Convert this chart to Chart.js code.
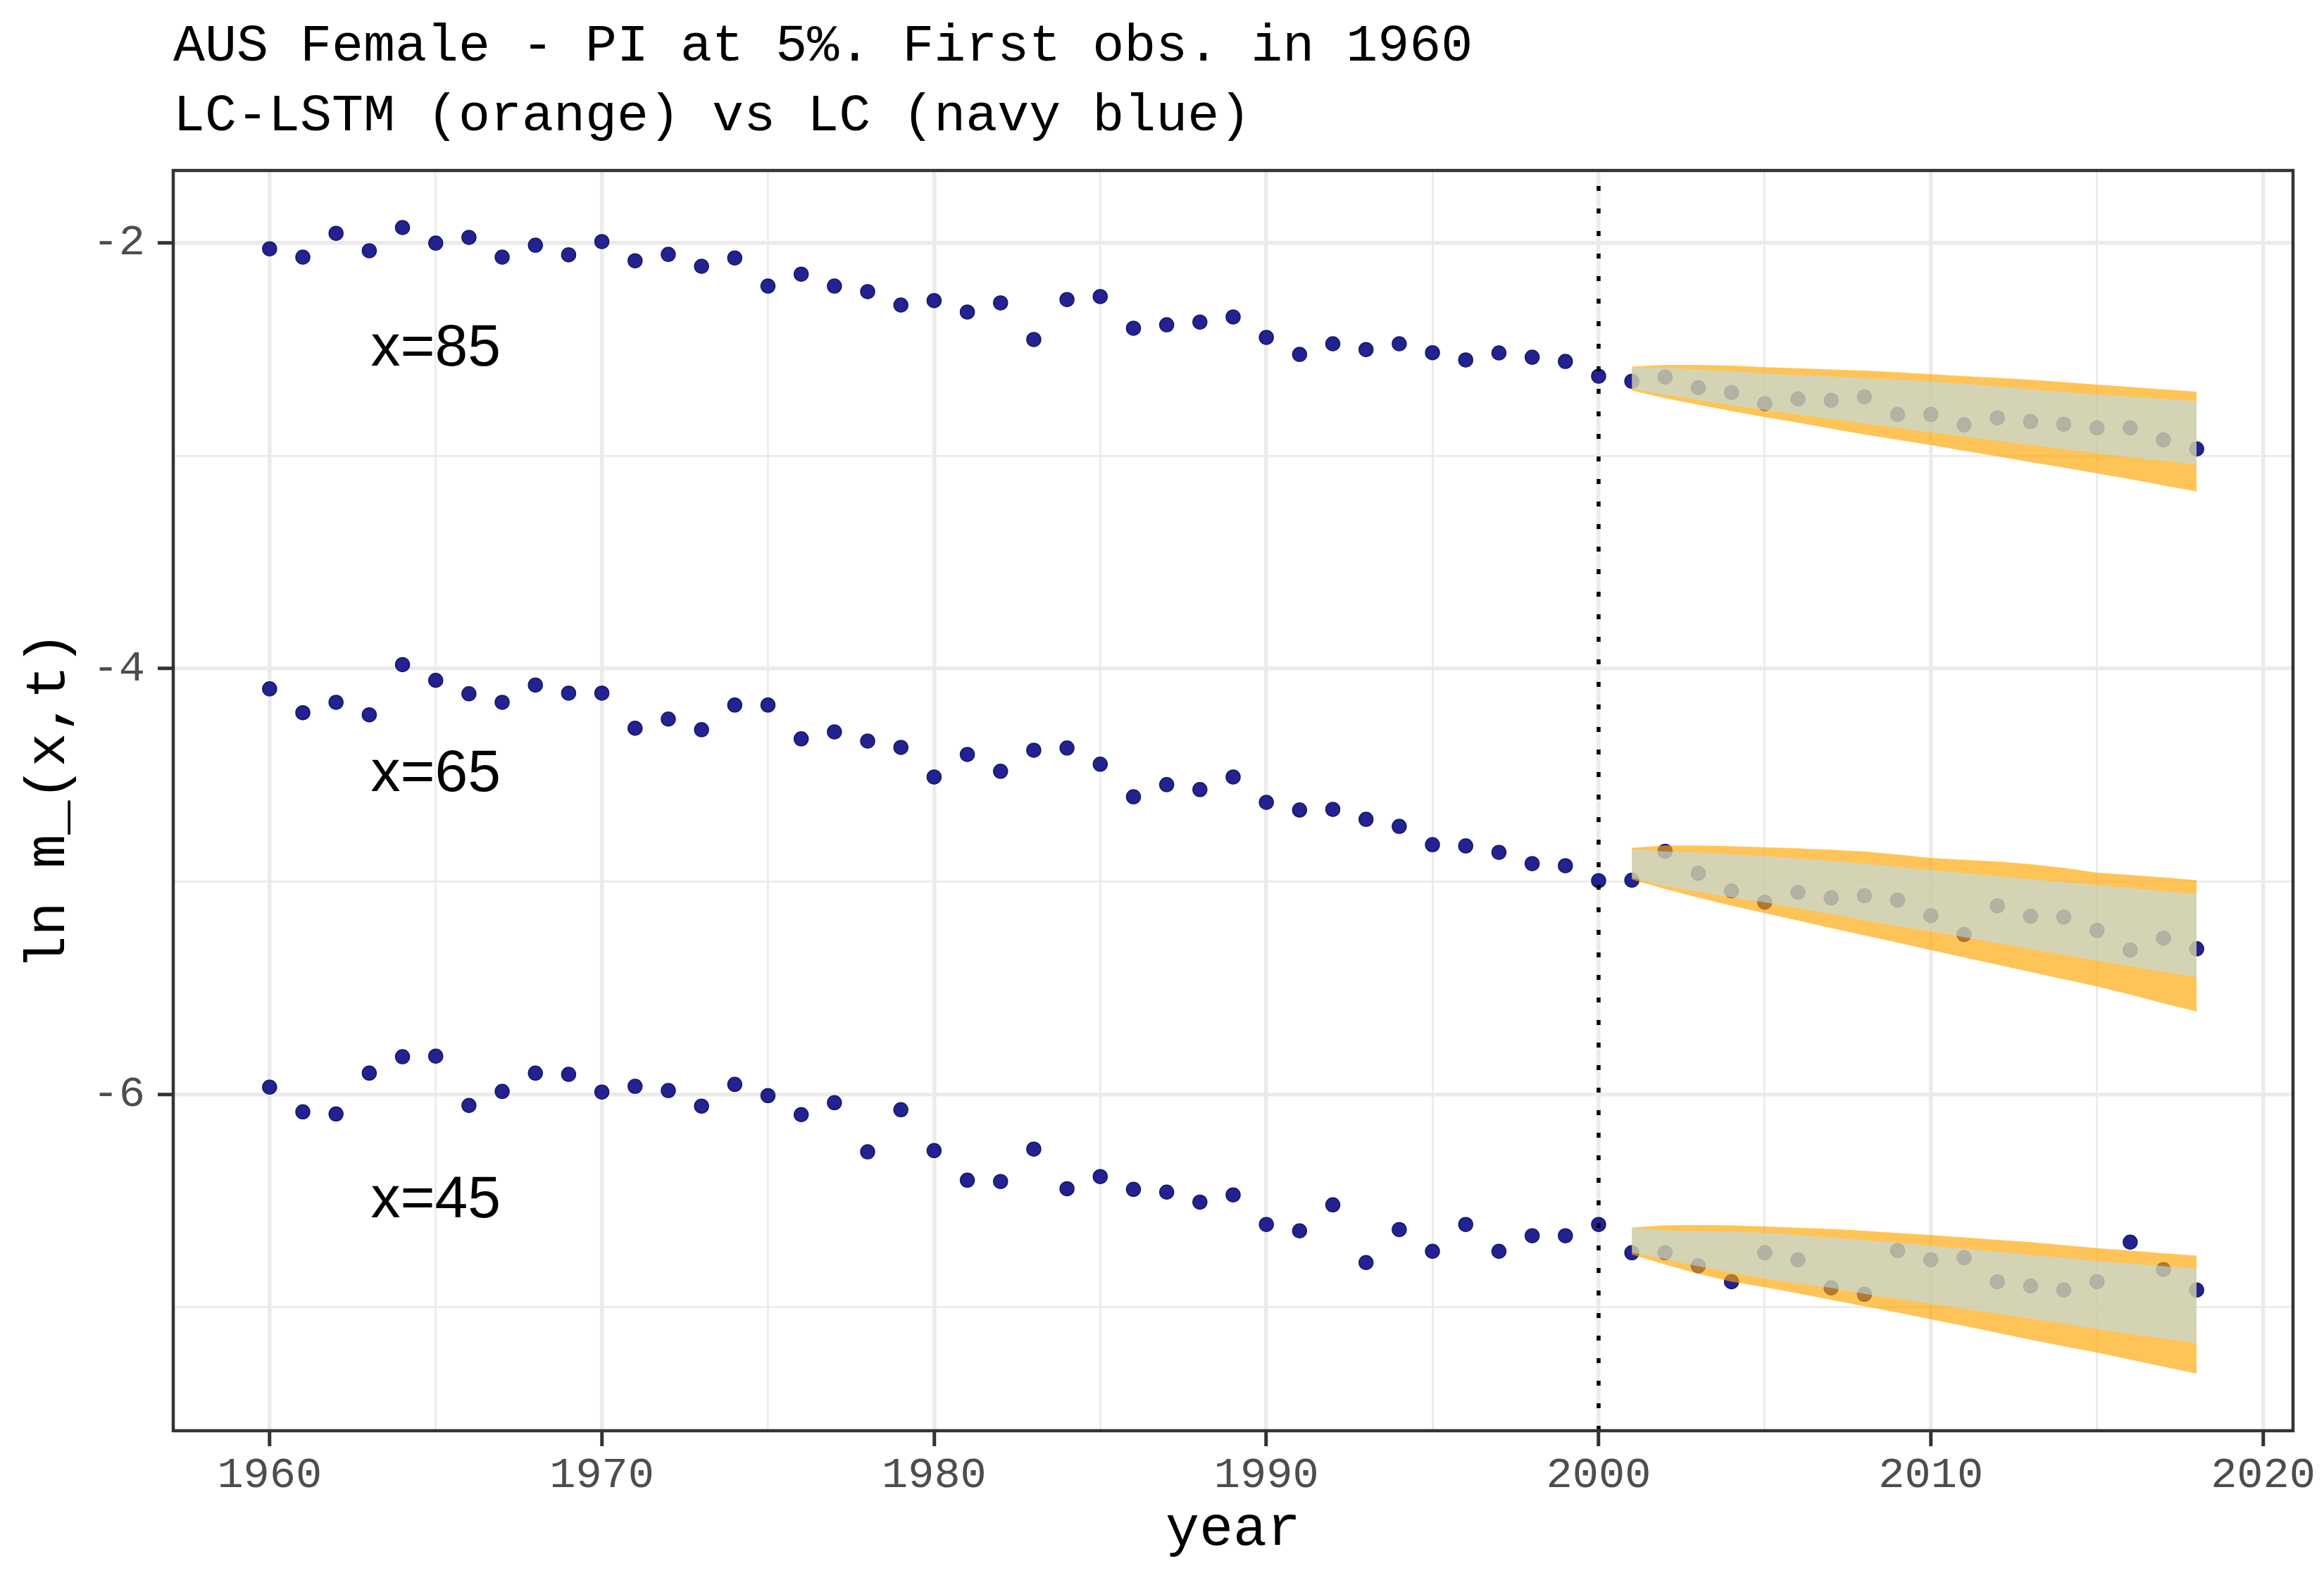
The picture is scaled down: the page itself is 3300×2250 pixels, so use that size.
<!DOCTYPE html>
<html>
<head>
<meta charset="utf-8">
<script src="https://cdn.jsdelivr.net/npm/chart.js@4.4.1/dist/chart.umd.min.js"></script>
<style>
  html, body { margin: 0; padding: 0; background: #fff; }
  canvas { display: block; }
</style>
</head>
<body>
<canvas id="mortChart" width="3300" height="2250"></canvas>
<script>
// observed years 1960-2018
const years = [1960,1961,1962,1963,1964,1965,1966,1967,1968,1969,1970,1971,1972,1973,1974,1975,1976,1977,1978,1979,1980,
  1981,1982,1983,1984,1985,1986,1987,1988,1989,1990,1991,1992,1993,1994,1995,1996,1997,1998,1999,2000,
  2001,2002,2003,2004,2005,2006,2007,2008,2009,2010,2011,2012,2013,2014,2015,2016,2017,2018];
// forecast years
const fcYears = [2001,2002,2003,2004,2005,2006,2007,2008,2009,2010,2011,2012,2013,2014,2015,2016,2017,2018];

// ln m(x,t) observed
const obs85 = [-2.028,-2.067,-1.955,-2.037,-1.928,-2.001,-1.974,-2.067,-2.011,-2.056,-1.994,-2.084,-2.054,-2.110,-2.071,-2.203,-2.147,-2.203,-2.229,-2.292,-2.271,
  -2.325,-2.282,-2.454,-2.266,-2.252,-2.401,-2.385,-2.372,-2.348,-2.444,-2.524,-2.474,-2.501,-2.474,-2.516,-2.550,-2.517,-2.537,-2.557,-2.626,
  -2.650,-2.630,-2.680,-2.703,-2.755,-2.733,-2.740,-2.723,-2.806,-2.806,-2.855,-2.822,-2.839,-2.852,-2.869,-2.869,-2.925,-2.968];
const obs65 = [-4.095,-4.207,-4.158,-4.217,-3.981,-4.055,-4.118,-4.158,-4.077,-4.115,-4.115,-4.280,-4.237,-4.287,-4.171,-4.171,-4.330,-4.297,-4.340,-4.370,-4.509,
  -4.403,-4.482,-4.383,-4.373,-4.449,-4.602,-4.545,-4.568,-4.509,-4.628,-4.664,-4.661,-4.708,-4.741,-4.827,-4.833,-4.863,-4.916,-4.926,-4.996,
  -4.994,-4.858,-4.961,-5.044,-5.097,-5.051,-5.077,-5.067,-5.087,-5.160,-5.249,-5.114,-5.163,-5.167,-5.230,-5.322,-5.266,-5.316];
const obs45 = [-5.966,-6.082,-6.092,-5.900,-5.823,-5.820,-6.052,-5.986,-5.900,-5.906,-5.989,-5.962,-5.982,-6.055,-5.953,-6.006,-6.095,-6.039,-6.270,-6.072,-6.264,
  -6.403,-6.409,-6.257,-6.443,-6.386,-6.446,-6.459,-6.506,-6.472,-6.611,-6.641,-6.519,-6.790,-6.635,-6.737,-6.611,-6.737,-6.664,-6.664,-6.611,
  -6.744,-6.744,-6.805,-6.880,-6.744,-6.777,-6.909,-6.939,-6.734,-6.777,-6.767,-6.880,-6.900,-6.919,-6.880,-6.694,-6.823,-6.919];

// LC-LSTM prediction interval (orange)
const lstmUp85 = [-2.581,-2.573,-2.573,-2.577,-2.584,-2.589,-2.595,-2.600,-2.608,-2.617,-2.626,-2.634,-2.643,-2.654,-2.666,-2.677,-2.688,-2.699];
const lstmLo85 = [-2.694,-2.730,-2.760,-2.790,-2.818,-2.845,-2.873,-2.900,-2.925,-2.950,-2.977,-3.003,-3.030,-3.056,-3.083,-3.110,-3.139,-3.168];
const lstmUp65 = [-4.842,-4.831,-4.831,-4.834,-4.839,-4.844,-4.851,-4.859,-4.873,-4.890,-4.898,-4.906,-4.919,-4.936,-4.958,-4.969,-4.981,-4.994];
const lstmLo65 = [-4.991,-5.035,-5.076,-5.114,-5.149,-5.183,-5.219,-5.253,-5.287,-5.322,-5.356,-5.391,-5.425,-5.459,-5.493,-5.532,-5.572,-5.611];
const lstmUp45 = [-6.625,-6.615,-6.614,-6.615,-6.620,-6.626,-6.632,-6.641,-6.651,-6.661,-6.672,-6.683,-6.694,-6.708,-6.722,-6.734,-6.746,-6.758];
const lstmLo45 = [-6.753,-6.799,-6.843,-6.880,-6.906,-6.935,-6.965,-6.995,-7.025,-7.056,-7.088,-7.120,-7.152,-7.183,-7.213,-7.246,-7.279,-7.312];

// LC prediction interval (inner band)
const lcUp85 = [-2.584,-2.587,-2.595,-2.604,-2.614,-2.621,-2.628,-2.636,-2.643,-2.652,-2.663,-2.674,-2.688,-2.701,-2.713,-2.723,-2.733,-2.744];
const lcLo85 = [-2.685,-2.713,-2.738,-2.763,-2.785,-2.807,-2.827,-2.848,-2.869,-2.890,-2.910,-2.930,-2.950,-2.969,-2.989,-3.007,-3.024,-3.042];
const lcUp65 = [-4.848,-4.859,-4.864,-4.872,-4.881,-4.892,-4.903,-4.916,-4.932,-4.947,-4.961,-4.975,-4.989,-5.003,-5.017,-5.031,-5.046,-5.060];
const lcLo65 = [-4.983,-5.021,-5.049,-5.074,-5.098,-5.126,-5.153,-5.182,-5.209,-5.234,-5.262,-5.289,-5.317,-5.344,-5.372,-5.398,-5.425,-5.450];
const lcUp45 = [-6.628,-6.639,-6.642,-6.646,-6.650,-6.661,-6.673,-6.685,-6.698,-6.711,-6.725,-6.740,-6.754,-6.768,-6.783,-6.795,-6.807,-6.819];
const lcLo45 = [-6.744,-6.774,-6.807,-6.838,-6.865,-6.888,-6.909,-6.937,-6.961,-6.983,-7.007,-7.030,-7.053,-7.077,-7.103,-7.125,-7.147,-7.169];

const ageLabels = ['x=85', 'x=65', 'x=45'];
const ageLabelY = [-2.5, -4.5, -6.5];
const ageLabelYear = 1965;
const cutYear = 2000;

const titleLines = ['AUS Female - PI at 5%. First obs. in 1960', 'LC-LSTM (orange) vs LC (navy blue)'];

const NAVY = '#222290';
const ORANGE = 'rgba(255,165,0,0.66)';
const LCFILL = 'rgba(178,225,255,0.56)';
const MONO = "'Courier New', 'Liberation Mono', monospace";

function pts(xs, ys) {
  return xs.map((x, i) => ({ x: x, y: ys[i] }));
}

const datasets = [];
[obs85, obs65, obs45].forEach(s => {
  datasets.push({
    data: pts(years, s),
    showLine: false,
    pointRadius: 10,
    pointBackgroundColor: NAVY,
    pointBorderColor: '#17176f',
    pointBorderWidth: 1.5,
    order: 4
  });
});

function band(lo, hi, color, ord) {
  datasets.push({ data: pts(fcYears, lo), pointRadius: 0, borderWidth: 0, borderColor: 'rgba(0,0,0,0)', fill: false, tension: 0, order: ord });
  datasets.push({ data: pts(fcYears, hi), pointRadius: 0, borderWidth: 0, borderColor: 'rgba(0,0,0,0)', backgroundColor: color, fill: '-1', tension: 0, order: ord });
}
band(lstmLo85, lstmUp85, ORANGE, 3);
band(lstmLo65, lstmUp65, ORANGE, 3);
band(lstmLo45, lstmUp45, ORANGE, 3);
band(lcLo85, lcUp85, LCFILL, 2);
band(lcLo65, lcUp65, LCFILL, 2);
band(lcLo45, lcUp45, LCFILL, 2);

const decor = {
  id: 'decor',
  afterDatasetsDraw(chart) {
    const { ctx, chartArea: a, scales: { x, y } } = chart;
    ctx.save();
    // dotted line at forecast origin
    const xc = x.getPixelForValue(cutYear);
    ctx.strokeStyle = '#000';
    ctx.lineWidth = 5.5;
    ctx.setLineDash([7, 25]);
    ctx.beginPath();
    ctx.moveTo(xc, a.bottom);
    ctx.lineTo(xc, a.top);
    ctx.stroke();
    ctx.setLineDash([]);
    // age labels
    ctx.fillStyle = '#000';
    ctx.font = "84px 'Liberation Sans', Arial, sans-serif";
    ctx.textAlign = 'center';
    ctx.textBaseline = 'middle';
    ageLabels.forEach((t, i) => {
      ctx.fillText(t, x.getPixelForValue(ageLabelYear), y.getPixelForValue(ageLabelY[i]));
    });
    // panel border
    ctx.strokeStyle = '#333333';
    ctx.lineWidth = 4.5;
    ctx.strokeRect(a.left, a.top, a.right - a.left, a.bottom - a.top);
    ctx.restore();
  },
  afterDraw(chart) {
    const { ctx, chartArea: a } = chart;
    ctx.save();
    ctx.fillStyle = '#000';
    ctx.font = '75px ' + MONO;
    ctx.textAlign = 'left';
    ctx.textBaseline = 'alphabetic';
    ctx.fillText(titleLines[0], a.left, 86);
    ctx.fillText(titleLines[1], a.left, 185);
    ctx.restore();
  }
};

const isMajorX = v => Math.round(v) % 10 === 0;
const isMajorY = v => Math.round(v) % 2 === 0;

new Chart(document.getElementById('mortChart').getContext('2d'), {
  type: 'line',
  data: { datasets: datasets },
  options: {
    responsive: false,
    animation: false,
    devicePixelRatio: 1,
    layout: { padding: { top: 242, right: 44, left: 0, bottom: 0 } },
    plugins: { legend: { display: false }, tooltip: { enabled: false }, title: { display: false } },
    scales: {
      x: {
        type: 'linear',
        min: 1957.1,
        max: 2020.9,
        afterFit: s => { s.height = 219; },
        border: { display: false },
        grid: {
          color: '#EBEBEB',
          lineWidth: c => isMajorX(c.tick.value) ? 5.5 : 2.8,
          tickColor: c => isMajorX(c.tick.value) ? '#333333' : 'rgba(0,0,0,0)',
          tickWidth: 5,
          tickLength: 22
        },
        ticks: {
          stepSize: 5,
          includeBounds: false,
          autoSkip: false,
          maxRotation: 0,
          padding: 4,
          color: '#4D4D4D',
          font: { family: MONO, size: 62 },
          callback: v => isMajorX(v) ? String(v) : ''
        },
        title: {
          display: true,
          text: 'year',
          color: '#000',
          font: { family: MONO, size: 80, lineHeight: 1.2 },
          padding: { top: 0, bottom: 30 }
        }
      },
      y: {
        type: 'linear',
        min: -7.58,
        max: -1.66,
        afterFit: s => { s.width = 246; },
        border: { display: false },
        grid: {
          color: '#EBEBEB',
          lineWidth: c => isMajorY(c.tick.value) ? 5.5 : 2.8,
          tickColor: c => isMajorY(c.tick.value) ? '#333333' : 'rgba(0,0,0,0)',
          tickWidth: 5,
          tickLength: 22
        },
        ticks: {
          stepSize: 1,
          includeBounds: false,
          autoSkip: false,
          padding: 18,
          color: '#4D4D4D',
          font: { family: MONO, size: 62 },
          callback: v => isMajorY(v) ? String(v) : ''
        },
        title: {
          display: true,
          text: 'ln m_(x,t)',
          color: '#000',
          font: { family: MONO, size: 80, lineHeight: 1.2 },
          padding: { top: 22, bottom: 0 }
        }
      }
    }
  },
  plugins: [decor]
});
</script>
</body>
</html>
